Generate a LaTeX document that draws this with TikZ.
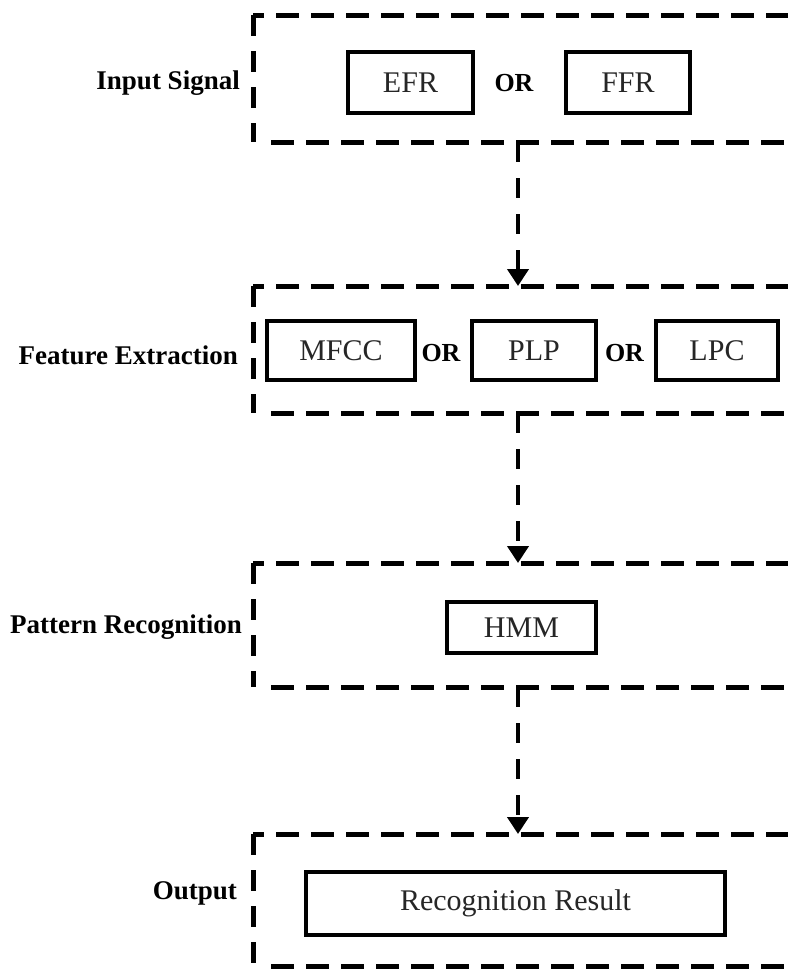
\documentclass[tikz,border=0pt]{standalone}
\usepackage{fontspec}
\setmainfont{Liberation Serif}
\usetikzlibrary{arrows.meta}
\tikzset{
  stage/.style={draw=none, minimum width=580bp, inner sep=0pt, anchor=north west},
  frameside/.style={line width=5bp, dash pattern=on 21bp off 15bp},
  frametop/.style={line width=5bp, dash pattern=on 23bp off 12bp},
  item/.style={draw=black, line width=3.5bp, inner sep=0pt,
    font=\fontsize{30bp}{34bp}\selectfont, text=black!85},
  orword/.style={font=\bfseries\fontsize{26bp}{30bp}\selectfont, inner sep=0pt},
  stagelabel/.style={font=\bfseries\fontsize{27bp}{31bp}\selectfont, inner sep=0pt, anchor=east},
  flow/.style={line width=4bp, dash pattern=on 20bp off 16bp,
    -{Triangle[length=17bp,width=21bp]}}
}
% dashed frame of a stage: left side, top from the corner, bottom with an open corner
\newcommand\stageframe[1]{%
  \draw[frameside] (#1.north west) -- (#1.south west);
  \draw[frametop, dash phase=12bp] (#1.north west) -- (#1.north east);
  \draw[frametop] ([xshift=18bp]#1.south west) -- (#1.south east);
}
\begin{document}
\begin{tikzpicture}[x=1bp,y=-1bp]
\clip (0,0) rectangle (788,969);
\fill[white] (0,0) rectangle (788,969);

% stages, open to the right
\node[stage, minimum height=127bp] (s1) at (253,15) {};
\node[stage, minimum height=127bp] (s2) at (253,286) {};
\node[stage, minimum height=124bp] (s3) at (253,563) {};
\node[stage, minimum height=132bp] (s4) at (253,834) {};
\stageframe{s1}
\stageframe{s2}
\stageframe{s3}
\stageframe{s4}

% stage labels
\node[stagelabel] (l1) at (240,83) {Input Signal};
\node[stagelabel] (l2) at (238,355) {Feature Extraction};
\node[stagelabel] (l3) at (242,627) {Pattern Recognition};
\node[stagelabel] (l4) at (237,893) {Output};

% input signal
\node[item, minimum width=125bp, minimum height=61bp] (efr) at (410.5,82.5) {EFR};
\node[orword] (or1) at (514,83) {OR};
\node[item, minimum width=124bp, minimum height=61bp] (ffr) at (628,82.5) {FFR};

% feature extraction
\node[item, minimum width=148bp, minimum height=59bp] (mfcc) at (341,350.5) {MFCC};
\node[orword] (or2) at (441,353) {OR};
\node[item, minimum width=124bp, minimum height=59bp] (plp) at (534,350.5) {PLP};
\node[orword] (or3) at (624.5,353) {OR};
\node[item, minimum width=122bp, minimum height=59bp] (lpc) at (717,350.5) {LPC};

% pattern recognition
\node[item, minimum width=149bp, minimum height=51bp] (hmm) at (521.5,627.5) {HMM};

% output
\node[item, minimum width=419bp, minimum height=63bp] (res) at (515.5,903.5) {Recognition Result};

% flow between stages
\coordinate (x) at (518,0);
\draw[flow] (s1.south -| x) -- (s2.north -| x);
\draw[flow] (s2.south -| x) -- (s3.north -| x);
\draw[flow] (s3.south -| x) -- (s4.north -| x);
\end{tikzpicture}
\end{document}
